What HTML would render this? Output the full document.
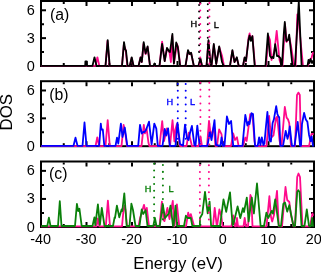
<!DOCTYPE html>
<html><head><meta charset="utf-8"><style>
html,body{margin:0;padding:0;background:#fff;}
svg{display:block;will-change:transform;}
.t{font-family:"Liberation Sans",sans-serif;font-size:15.3px;fill:#000;}
.p{font-family:"Liberation Sans",sans-serif;font-size:15.8px;fill:#000;}
.s{font-family:"Liberation Sans",sans-serif;font-size:9.2px;fill:#000;stroke:#000;stroke-width:0.35px;}
.ax{font-family:"Liberation Sans",sans-serif;font-size:16.8px;fill:#000;}
</style></head><body>
<svg width="321" height="272" viewBox="0 0 321 272">
<rect x="41" y="1" width="273" height="65" fill="none" stroke="#000" stroke-width="2"/>
<line x1="63.75" y1="2" x2="63.75" y2="4" stroke="#000" stroke-width="2"/>
<line x1="63.75" y1="65" x2="63.75" y2="63" stroke="#000" stroke-width="2"/>
<line x1="86.50" y1="2" x2="86.50" y2="6" stroke="#000" stroke-width="2"/>
<line x1="86.50" y1="65" x2="86.50" y2="61" stroke="#000" stroke-width="2"/>
<line x1="109.25" y1="2" x2="109.25" y2="4" stroke="#000" stroke-width="2"/>
<line x1="109.25" y1="65" x2="109.25" y2="63" stroke="#000" stroke-width="2"/>
<line x1="132.00" y1="2" x2="132.00" y2="6" stroke="#000" stroke-width="2"/>
<line x1="132.00" y1="65" x2="132.00" y2="61" stroke="#000" stroke-width="2"/>
<line x1="154.75" y1="2" x2="154.75" y2="4" stroke="#000" stroke-width="2"/>
<line x1="154.75" y1="65" x2="154.75" y2="63" stroke="#000" stroke-width="2"/>
<line x1="177.50" y1="2" x2="177.50" y2="6" stroke="#000" stroke-width="2"/>
<line x1="177.50" y1="65" x2="177.50" y2="61" stroke="#000" stroke-width="2"/>
<line x1="200.25" y1="2" x2="200.25" y2="4" stroke="#000" stroke-width="2"/>
<line x1="200.25" y1="65" x2="200.25" y2="63" stroke="#000" stroke-width="2"/>
<line x1="223.00" y1="2" x2="223.00" y2="6" stroke="#000" stroke-width="2"/>
<line x1="223.00" y1="65" x2="223.00" y2="61" stroke="#000" stroke-width="2"/>
<line x1="245.75" y1="2" x2="245.75" y2="4" stroke="#000" stroke-width="2"/>
<line x1="245.75" y1="65" x2="245.75" y2="63" stroke="#000" stroke-width="2"/>
<line x1="268.50" y1="2" x2="268.50" y2="6" stroke="#000" stroke-width="2"/>
<line x1="268.50" y1="65" x2="268.50" y2="61" stroke="#000" stroke-width="2"/>
<line x1="291.25" y1="2" x2="291.25" y2="4" stroke="#000" stroke-width="2"/>
<line x1="291.25" y1="65" x2="291.25" y2="63" stroke="#000" stroke-width="2"/>
<line x1="42" y1="52.07" x2="44" y2="52.07" stroke="#000" stroke-width="2"/>
<line x1="313" y1="52.07" x2="311" y2="52.07" stroke="#000" stroke-width="2"/>
<line x1="42" y1="38.14" x2="46" y2="38.14" stroke="#000" stroke-width="2"/>
<line x1="313" y1="38.14" x2="309" y2="38.14" stroke="#000" stroke-width="2"/>
<line x1="42" y1="24.21" x2="44" y2="24.21" stroke="#000" stroke-width="2"/>
<line x1="313" y1="24.21" x2="311" y2="24.21" stroke="#000" stroke-width="2"/>
<line x1="42" y1="10.29" x2="46" y2="10.29" stroke="#000" stroke-width="2"/>
<line x1="313" y1="10.29" x2="309" y2="10.29" stroke="#000" stroke-width="2"/>
<text transform="translate(34.9,70.50) scale(0.95,1)" text-anchor="end" class="t">0</text>
<text transform="translate(34.9,42.64) scale(0.95,1)" text-anchor="end" class="t">3</text>
<text transform="translate(34.9,14.79) scale(0.95,1)" text-anchor="end" class="t">6</text>
<rect x="41" y="81.2" width="273" height="65" fill="none" stroke="#000" stroke-width="2"/>
<line x1="63.75" y1="82.2" x2="63.75" y2="84.2" stroke="#000" stroke-width="2"/>
<line x1="63.75" y1="145.2" x2="63.75" y2="143.2" stroke="#000" stroke-width="2"/>
<line x1="86.50" y1="82.2" x2="86.50" y2="86.2" stroke="#000" stroke-width="2"/>
<line x1="86.50" y1="145.2" x2="86.50" y2="141.2" stroke="#000" stroke-width="2"/>
<line x1="109.25" y1="82.2" x2="109.25" y2="84.2" stroke="#000" stroke-width="2"/>
<line x1="109.25" y1="145.2" x2="109.25" y2="143.2" stroke="#000" stroke-width="2"/>
<line x1="132.00" y1="82.2" x2="132.00" y2="86.2" stroke="#000" stroke-width="2"/>
<line x1="132.00" y1="145.2" x2="132.00" y2="141.2" stroke="#000" stroke-width="2"/>
<line x1="154.75" y1="82.2" x2="154.75" y2="84.2" stroke="#000" stroke-width="2"/>
<line x1="154.75" y1="145.2" x2="154.75" y2="143.2" stroke="#000" stroke-width="2"/>
<line x1="177.50" y1="82.2" x2="177.50" y2="86.2" stroke="#000" stroke-width="2"/>
<line x1="177.50" y1="145.2" x2="177.50" y2="141.2" stroke="#000" stroke-width="2"/>
<line x1="200.25" y1="82.2" x2="200.25" y2="84.2" stroke="#000" stroke-width="2"/>
<line x1="200.25" y1="145.2" x2="200.25" y2="143.2" stroke="#000" stroke-width="2"/>
<line x1="223.00" y1="82.2" x2="223.00" y2="86.2" stroke="#000" stroke-width="2"/>
<line x1="223.00" y1="145.2" x2="223.00" y2="141.2" stroke="#000" stroke-width="2"/>
<line x1="245.75" y1="82.2" x2="245.75" y2="84.2" stroke="#000" stroke-width="2"/>
<line x1="245.75" y1="145.2" x2="245.75" y2="143.2" stroke="#000" stroke-width="2"/>
<line x1="268.50" y1="82.2" x2="268.50" y2="86.2" stroke="#000" stroke-width="2"/>
<line x1="268.50" y1="145.2" x2="268.50" y2="141.2" stroke="#000" stroke-width="2"/>
<line x1="291.25" y1="82.2" x2="291.25" y2="84.2" stroke="#000" stroke-width="2"/>
<line x1="291.25" y1="145.2" x2="291.25" y2="143.2" stroke="#000" stroke-width="2"/>
<line x1="42" y1="132.27" x2="44" y2="132.27" stroke="#000" stroke-width="2"/>
<line x1="313" y1="132.27" x2="311" y2="132.27" stroke="#000" stroke-width="2"/>
<line x1="42" y1="118.34" x2="46" y2="118.34" stroke="#000" stroke-width="2"/>
<line x1="313" y1="118.34" x2="309" y2="118.34" stroke="#000" stroke-width="2"/>
<line x1="42" y1="104.41" x2="44" y2="104.41" stroke="#000" stroke-width="2"/>
<line x1="313" y1="104.41" x2="311" y2="104.41" stroke="#000" stroke-width="2"/>
<line x1="42" y1="90.49" x2="46" y2="90.49" stroke="#000" stroke-width="2"/>
<line x1="313" y1="90.49" x2="309" y2="90.49" stroke="#000" stroke-width="2"/>
<text transform="translate(34.9,150.70) scale(0.95,1)" text-anchor="end" class="t">0</text>
<text transform="translate(34.9,122.84) scale(0.95,1)" text-anchor="end" class="t">3</text>
<text transform="translate(34.9,94.99) scale(0.95,1)" text-anchor="end" class="t">6</text>
<rect x="41" y="161.5" width="273" height="65.5" fill="none" stroke="#000" stroke-width="2"/>
<line x1="63.75" y1="162.5" x2="63.75" y2="164.5" stroke="#000" stroke-width="2"/>
<line x1="63.75" y1="226.0" x2="63.75" y2="224.0" stroke="#000" stroke-width="2"/>
<line x1="86.50" y1="162.5" x2="86.50" y2="166.5" stroke="#000" stroke-width="2"/>
<line x1="86.50" y1="226.0" x2="86.50" y2="222.0" stroke="#000" stroke-width="2"/>
<line x1="109.25" y1="162.5" x2="109.25" y2="164.5" stroke="#000" stroke-width="2"/>
<line x1="109.25" y1="226.0" x2="109.25" y2="224.0" stroke="#000" stroke-width="2"/>
<line x1="132.00" y1="162.5" x2="132.00" y2="166.5" stroke="#000" stroke-width="2"/>
<line x1="132.00" y1="226.0" x2="132.00" y2="222.0" stroke="#000" stroke-width="2"/>
<line x1="154.75" y1="162.5" x2="154.75" y2="164.5" stroke="#000" stroke-width="2"/>
<line x1="154.75" y1="226.0" x2="154.75" y2="224.0" stroke="#000" stroke-width="2"/>
<line x1="177.50" y1="162.5" x2="177.50" y2="166.5" stroke="#000" stroke-width="2"/>
<line x1="177.50" y1="226.0" x2="177.50" y2="222.0" stroke="#000" stroke-width="2"/>
<line x1="200.25" y1="162.5" x2="200.25" y2="164.5" stroke="#000" stroke-width="2"/>
<line x1="200.25" y1="226.0" x2="200.25" y2="224.0" stroke="#000" stroke-width="2"/>
<line x1="223.00" y1="162.5" x2="223.00" y2="166.5" stroke="#000" stroke-width="2"/>
<line x1="223.00" y1="226.0" x2="223.00" y2="222.0" stroke="#000" stroke-width="2"/>
<line x1="245.75" y1="162.5" x2="245.75" y2="164.5" stroke="#000" stroke-width="2"/>
<line x1="245.75" y1="226.0" x2="245.75" y2="224.0" stroke="#000" stroke-width="2"/>
<line x1="268.50" y1="162.5" x2="268.50" y2="166.5" stroke="#000" stroke-width="2"/>
<line x1="268.50" y1="226.0" x2="268.50" y2="222.0" stroke="#000" stroke-width="2"/>
<line x1="291.25" y1="162.5" x2="291.25" y2="164.5" stroke="#000" stroke-width="2"/>
<line x1="291.25" y1="226.0" x2="291.25" y2="224.0" stroke="#000" stroke-width="2"/>
<line x1="42" y1="212.96" x2="44" y2="212.96" stroke="#000" stroke-width="2"/>
<line x1="313" y1="212.96" x2="311" y2="212.96" stroke="#000" stroke-width="2"/>
<line x1="42" y1="198.93" x2="46" y2="198.93" stroke="#000" stroke-width="2"/>
<line x1="313" y1="198.93" x2="309" y2="198.93" stroke="#000" stroke-width="2"/>
<line x1="42" y1="184.89" x2="44" y2="184.89" stroke="#000" stroke-width="2"/>
<line x1="313" y1="184.89" x2="311" y2="184.89" stroke="#000" stroke-width="2"/>
<line x1="42" y1="170.86" x2="46" y2="170.86" stroke="#000" stroke-width="2"/>
<line x1="313" y1="170.86" x2="309" y2="170.86" stroke="#000" stroke-width="2"/>
<text transform="translate(34.9,231.50) scale(0.95,1)" text-anchor="end" class="t">0</text>
<text transform="translate(34.9,203.43) scale(0.95,1)" text-anchor="end" class="t">3</text>
<text transform="translate(34.9,175.36) scale(0.95,1)" text-anchor="end" class="t">6</text>
<polyline points="42.00,65.80 95.50,65.80 97.40,57.30 99.30,65.80 105.50,65.80 107.50,41.00 109.50,65.80 122.00,65.80 123.80,45.00 125.60,49.50 127.30,65.80 129.80,65.80 131.70,58.00 133.50,65.80 138.60,65.80 140.60,57.30 141.80,62.00 143.50,44.00 145.60,54.00 147.60,47.00 150.00,65.80 159.50,65.80 162.10,41.70 164.70,61.00 167.00,48.50 169.40,52.00 170.90,62.00 172.20,36.00 173.90,63.50 177.00,44.00 178.00,47.00 180.30,65.80 185.50,65.80 188.00,51.00 189.50,54.00 191.10,53.00 193.80,65.80 198.50,65.80 200.40,59.00 202.00,65.80 206.50,65.80 208.50,41.00 210.60,65.80 211.50,65.80 213.80,45.00 216.20,64.00 219.20,47.00 222.00,55.70 224.00,65.80 230.00,65.80 232.40,51.00 234.50,62.00 236.80,58.00 238.70,65.80 243.00,65.80 244.60,58.00 246.00,61.50 248.50,38.00 249.60,33.40 250.80,40.00 252.40,36.00 255.00,65.80 266.00,65.80 268.50,36.00 270.00,40.00 271.50,60.00 273.00,56.00 274.50,50.00 276.70,30.90 278.50,50.00 279.50,60.00 281.50,65.80 282.50,65.80 285.00,24.00 286.50,42.00 288.00,40.00 289.50,38.00 290.70,44.20 294.20,65.80 295.60,65.80 297.30,14.50 298.30,16.50 299.50,30.00 303.00,65.80 308.00,65.80 310.00,60.00 311.50,58.00 312.90,52.75" fill="none" stroke="#ff0a8c" stroke-width="1.8" stroke-linejoin="round" stroke-linecap="round"/>
<polyline points="42.00,65.80 85.20,65.80 85.40,61.30 86.80,61.30 87.00,65.80 92.50,65.80 94.50,57.30 96.50,65.80 105.50,65.80 107.70,40.10 109.70,65.80 122.00,65.80 124.00,42.10 125.20,49.50 126.00,50.50 127.60,65.80 129.80,65.80 131.70,57.30 133.50,65.80 138.60,65.80 140.60,57.30 141.80,62.00 143.70,42.10 145.60,53.40 147.60,46.40 150.00,65.80 153.50,65.80 154.60,63.50 155.50,65.80 159.50,65.80 162.10,44.00 164.70,61.00 167.00,47.90 169.40,51.80 170.00,52.00 172.40,34.00 173.90,63.50 176.20,42.50 177.80,47.00 180.10,65.80 185.50,65.80 188.00,50.20 189.50,54.00 191.10,52.80 193.80,65.80 198.50,65.80 200.40,58.40 202.00,65.80 206.50,65.80 208.50,40.20 210.60,65.80 211.50,65.80 213.80,44.00 216.20,64.00 219.20,46.40 222.00,62.00 223.60,65.80 230.00,65.80 232.40,50.20 234.50,62.00 236.80,57.30 238.70,65.80 243.00,65.80 244.60,57.30 246.00,61.00 248.50,40.00 249.60,35.50 250.80,40.90 252.40,36.20 254.70,65.80 265.50,65.80 267.90,33.50 270.00,56.00 271.50,58.00 272.50,57.00 273.50,58.00 275.20,44.20 277.00,56.00 278.20,56.00 280.40,58.10 281.10,65.80 282.00,65.80 283.70,35.00 284.80,22.00 286.30,41.00 288.00,40.00 289.20,34.60 292.50,65.80 295.00,65.80 298.80,1.50 301.60,65.80 307.50,65.80 308.50,60.00 309.50,63.00 310.50,59.00 312.00,63.00 313.00,61.00" fill="none" stroke="#000000" stroke-width="1.8" stroke-linejoin="round" stroke-linecap="round"/>
<polyline points="42.00,146.20 95.50,146.20 97.30,137.30 99.20,146.20 105.50,146.20 107.70,120.10 109.80,146.20 121.50,146.20 123.60,124.80 125.50,135.00 127.00,146.20 141.50,146.20 143.80,124.80 144.90,133.40 146.60,128.70 148.50,143.00 149.50,146.20 159.50,146.20 162.20,121.20 164.00,141.00 166.90,128.50 168.20,133.00 170.00,146.20 172.50,120.25 174.40,141.50 175.30,130.00 176.90,124.00 178.50,135.00 180.00,146.20 186.50,146.20 188.75,132.75 190.50,140.00 192.00,146.20 198.50,146.20 200.50,136.50 202.00,146.20 207.00,146.20 209.00,120.90 211.00,137.00 213.70,127.00 215.50,146.20 217.00,146.20 219.10,129.50 221.50,134.10 223.00,146.20 231.00,146.20 233.20,133.40 235.00,140.00 237.00,137.30 238.60,146.20 243.00,146.20 245.30,137.50 246.70,141.00 250.20,114.10 252.50,114.50 254.50,141.00 255.50,146.20 266.50,146.20 269.10,115.90 270.90,135.50 271.80,137.00 273.50,135.30 276.00,118.00 277.00,116.80 278.00,125.00 279.50,140.00 280.50,146.20 281.50,146.20 284.80,107.00 286.60,117.60 288.00,119.40 289.20,123.00 291.00,146.20 295.00,146.20 297.00,95.00 298.50,92.60 299.80,95.00 301.00,146.20 309.00,146.20 311.50,134.00 313.00,134.00" fill="none" stroke="#ff0a8c" stroke-width="1.8" stroke-linejoin="round" stroke-linecap="round"/>
<polyline points="42.00,145.80 73.50,145.80 75.50,137.70 77.50,145.80 82.50,145.80 84.50,122.50 86.50,145.80 99.20,145.80 100.80,123.70 101.50,129.50 102.80,129.50 104.30,145.80 115.50,145.80 117.00,137.70 118.30,143.50 120.90,123.70 122.50,137.00 124.80,127.50 127.30,145.80 138.20,145.80 140.00,124.80 141.80,133.50 143.40,131.80 144.50,132.00 146.00,130.00 149.00,121.70 151.60,144.30 154.30,123.70 156.30,128.70 157.80,145.80 162.50,145.80 164.75,129.00 166.20,135.50 168.10,128.40 169.80,145.80 175.50,145.80 177.50,122.75 180.00,144.00 183.00,145.80 185.00,124.60 187.00,138.00 188.50,140.00 190.20,132.00 191.90,125.90 194.40,145.00 195.50,145.80 197.30,125.60 199.00,140.00 200.00,145.80 207.50,145.80 209.80,131.80 211.50,140.00 214.50,120.10 216.00,145.00 220.50,145.80 221.50,137.30 223.00,145.80 224.50,145.80 226.90,116.50 229.00,124.00 231.10,120.90 233.20,145.80 242.50,145.80 245.30,115.00 247.40,125.50 248.50,122.00 249.50,124.00 251.50,113.20 253.00,114.00 255.00,145.80 257.70,145.80 259.10,137.30 260.40,145.00 261.80,137.30 263.40,145.00 264.40,143.50 266.00,126.00 267.40,112.00 269.50,140.60 270.90,141.50 272.60,123.00 273.90,119.40 276.20,106.20 277.40,114.00 278.60,116.80 279.20,117.00 280.40,145.80 283.00,145.80 285.70,130.90 287.50,138.80 288.50,135.00 289.80,126.50 291.90,145.80 294.50,145.80 297.70,121.80 300.10,145.80 301.00,145.80 302.00,124.00 304.10,112.90 305.80,119.40 307.40,121.80 309.00,134.70 310.60,141.20 311.70,136.40 313.00,145.80" fill="none" stroke="#0000ff" stroke-width="1.8" stroke-linejoin="round" stroke-linecap="round"/>
<polyline points="42.00,226.40 96.50,226.40 97.90,218.50 99.30,226.40 105.80,226.40 107.90,200.60 110.00,226.40 122.00,226.40 123.50,210.00 124.50,205.60 125.50,210.00 127.00,226.40 138.50,226.40 140.10,218.00 141.00,215.00 144.00,204.80 145.50,212.00 146.80,207.90 149.00,226.40 159.50,226.40 161.90,201.70 163.50,220.00 164.50,221.00 167.40,207.90 169.50,219.00 172.80,200.90 174.20,226.40 174.50,226.40 176.90,204.30 179.30,226.40 186.00,226.40 188.20,212.60 189.50,218.00 190.80,214.10 194.20,226.40 213.00,226.40 214.70,207.90 216.80,226.40 217.00,226.40 219.40,209.50 221.50,217.00 222.50,226.40 231.50,226.40 233.20,215.30 235.00,226.40 236.00,226.40 237.00,218.00 238.00,226.40 243.50,226.40 244.70,218.00 246.00,226.40 248.00,226.40 250.40,195.00 251.30,197.00 252.50,226.40 266.50,226.40 269.40,196.20 271.00,217.00 272.20,221.50 274.00,215.00 277.00,190.90 278.80,226.40 282.00,226.40 285.50,187.00 287.20,200.00 289.30,202.00 291.00,215.00 293.50,226.40 295.00,226.40 297.20,177.00 298.50,173.50 300.00,177.00 302.50,226.40 310.00,226.40 312.40,213.50 313.00,215.00" fill="none" stroke="#ff0a8c" stroke-width="1.8" stroke-linejoin="round" stroke-linecap="round"/>
<polyline points="42.00,226.00 47.30,226.00 48.90,217.70 50.50,226.00 58.00,226.00 59.80,201.20 61.50,226.00 75.00,226.00 76.90,204.00 78.20,211.00 79.40,208.70 81.70,226.00 92.50,226.00 94.40,217.50 95.30,225.20 97.90,204.30 99.90,224.80 101.80,207.90 104.50,226.00 113.00,226.00 114.60,217.30 115.00,218.00 116.90,205.60 119.30,217.30 121.60,209.50 122.30,211.00 124.30,193.40 126.70,226.00 129.50,226.00 131.40,203.70 133.00,210.00 135.50,226.00 139.50,226.00 141.70,209.50 143.20,214.00 145.60,210.20 147.50,226.00 153.30,226.00 154.90,218.00 156.50,226.00 159.80,226.00 162.70,204.00 165.00,218.00 168.90,213.40 170.50,205.60 173.00,226.00 173.60,226.00 175.50,205.60 177.20,226.00 184.00,226.00 185.90,215.70 187.50,218.00 189.80,218.00 190.80,218.00 192.40,226.00 199.90,226.00 200.00,218.00 202.30,214.00 205.00,191.90 207.70,213.40 209.60,201.70 211.10,226.00 220.00,226.00 223.50,199.40 226.20,211.80 230.00,192.40 232.60,225.00 233.30,224.50 237.60,206.50 240.30,218.00 242.90,208.20 244.00,212.00 246.80,197.60 248.60,221.50 251.80,197.60 253.90,213.50 257.00,183.50 260.60,226.00 264.00,226.00 266.40,212.60 268.20,218.00 271.70,210.90 273.00,213.50 275.20,199.40 278.80,226.00 281.00,226.00 283.30,204.00 285.00,202.50 287.20,211.60 289.30,205.20 291.20,215.00 293.50,226.00 295.00,226.00 297.20,192.00 298.30,190.30 299.50,192.00 301.50,226.00 304.50,226.00 306.80,209.40 309.00,226.00 311.00,226.00 312.10,218.00 313.00,226.00" fill="none" stroke="#0a800a" stroke-width="1.8" stroke-linejoin="round" stroke-linecap="round"/>
<line x1="199.1" y1="4.9" x2="199.1" y2="65" stroke="#000000" stroke-width="2" stroke-dasharray="0.01 6.7" stroke-linecap="round"/>
<line x1="200.25" y1="3.8" x2="200.25" y2="65" stroke="#ff0a8c" stroke-width="2" stroke-dasharray="0.01 6.7" stroke-linecap="round"/>
<line x1="207.8" y1="4.2" x2="207.8" y2="65" stroke="#000000" stroke-width="2" stroke-dasharray="0.01 6.7" stroke-linecap="round"/>
<line x1="209.4" y1="3.1" x2="209.4" y2="65" stroke="#ff0a8c" stroke-width="2" stroke-dasharray="0.01 6.7" stroke-linecap="round"/>
<line x1="177.8" y1="83.9" x2="177.8" y2="145" stroke="#0000ff" stroke-width="2" stroke-dasharray="0.01 6.85" stroke-linecap="round"/>
<line x1="185.7" y1="83.9" x2="185.7" y2="145" stroke="#0000ff" stroke-width="2" stroke-dasharray="0.01 6.85" stroke-linecap="round"/>
<line x1="200.4" y1="82.8" x2="200.4" y2="145" stroke="#ff0a8c" stroke-width="2" stroke-dasharray="0.01 6.85" stroke-linecap="round"/>
<line x1="209.3" y1="82.8" x2="209.3" y2="145" stroke="#ff0a8c" stroke-width="2" stroke-dasharray="0.01 6.85" stroke-linecap="round"/>
<line x1="154.1" y1="163.7" x2="154.1" y2="225" stroke="#0a800a" stroke-width="2" stroke-dasharray="0.01 6.76" stroke-linecap="round"/>
<line x1="162.9" y1="165.1" x2="162.9" y2="225" stroke="#0a800a" stroke-width="2" stroke-dasharray="0.01 6.76" stroke-linecap="round"/>
<line x1="199.9" y1="165.3" x2="199.9" y2="225" stroke="#ff0a8c" stroke-width="2" stroke-dasharray="0.01 6.75" stroke-linecap="round"/>
<line x1="208.9" y1="165.3" x2="208.9" y2="225" stroke="#ff0a8c" stroke-width="2" stroke-dasharray="0.01 6.75" stroke-linecap="round"/>
<text transform="translate(40.70,243.8) scale(0.94,1)" text-anchor="middle" class="t">-40</text>
<text transform="translate(86.20,243.8) scale(0.94,1)" text-anchor="middle" class="t">-30</text>
<text transform="translate(131.70,243.8) scale(0.94,1)" text-anchor="middle" class="t">-20</text>
<text transform="translate(177.20,243.8) scale(0.94,1)" text-anchor="middle" class="t">-10</text>
<text transform="translate(222.70,243.8) scale(0.94,1)" text-anchor="middle" class="t">0</text>
<text transform="translate(268.20,243.8) scale(0.94,1)" text-anchor="middle" class="t">10</text>
<text transform="translate(313.70,243.8) scale(0.94,1)" text-anchor="middle" class="t">20</text>
<text x="50" y="20.3" class="p">(a)</text>
<text x="49.2" y="99.6" class="p">(b)</text>
<text x="49" y="179" class="p">(c)</text>
<text x="190.5" y="27.4" class="s">H</text>
<text x="213.8" y="27.6" class="s">L</text>
<text x="166.5" y="105.3" class="s" style="fill:#0000ff;stroke:#0000ff">H</text>
<text x="189.9" y="105.3" class="s" style="fill:#0000ff;stroke:#0000ff">L</text>
<text x="144.8" y="191.9" class="s" style="fill:#0a800a;stroke:#0a800a">H</text>
<text x="168.5" y="191.9" class="s" style="fill:#0a800a;stroke:#0a800a">L</text>
<text x="178" y="268.7" text-anchor="middle" class="ax">Energy (eV)</text>
<text transform="translate(12.4,112.3) rotate(-90)" text-anchor="middle" class="ax">DOS</text>
</svg>
</body></html>
